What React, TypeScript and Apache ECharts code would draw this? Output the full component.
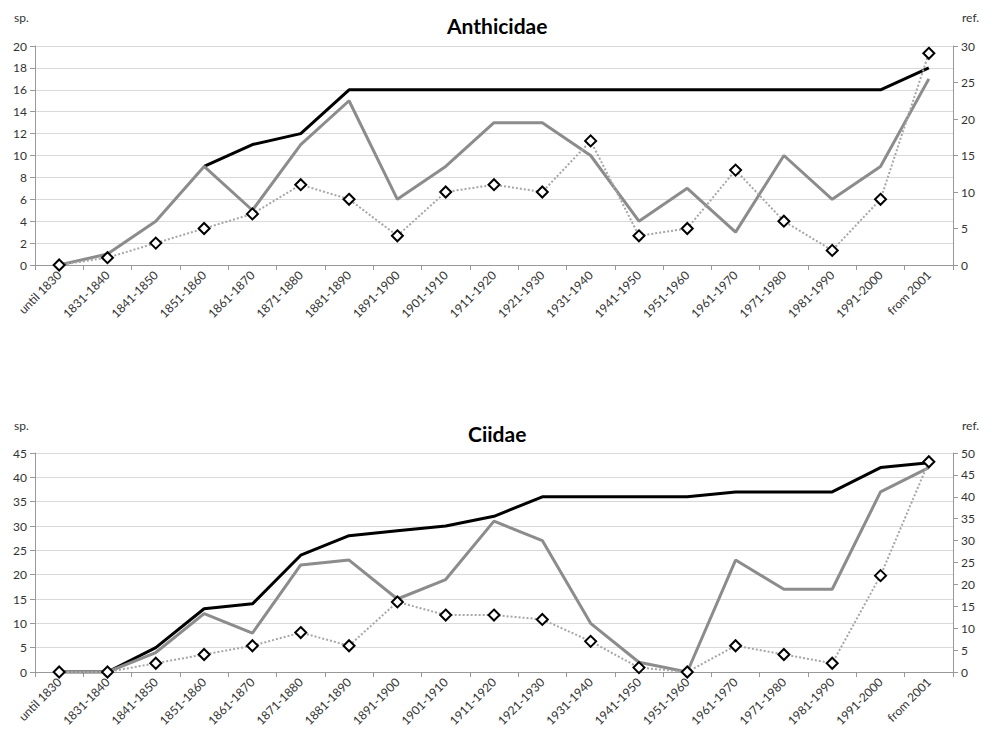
import React, { useEffect, useRef } from "react";
import * as echarts from "echarts";

const categories = [
  "until 1830", "1831-1840", "1841-1850", "1851-1860", "1861-1870", "1871-1880",
  "1881-1890", "1891-1900", "1901-1910", "1911-1920", "1921-1930", "1931-1940",
  "1941-1950", "1951-1960", "1961-1970", "1971-1980", "1981-1990", "1991-2000", "from 2001",
];

// Anthicidae (top) — black line only visible from 1851-1860 on
const anthCumulative: (number | null)[] = [null, null, null, 9, 11, 12, 16, 16, 16, 16, 16, 16, 16, 16, 16, 16, 16, 16, 18];
const anthSpecies = [0, 1, 4, 9, 5, 11, 15, 6, 9, 13, 13, 10, 4, 7, 3, 10, 6, 9, 17];
const anthRefs = [0, 1, 3, 5, 7, 11, 9, 4, 10, 11, 10, 17, 4, 5, 13, 6, 2, 9, 29];

// Ciidae (bottom)
const ciiCumulative = [0, 0, 5, 13, 14, 24, 28, 29, 30, 32, 36, 36, 36, 36, 37, 37, 37, 42, 43];
const ciiSpecies = [0, 0, 4, 12, 8, 22, 23, 15, 19, 31, 27, 10, 2, 0, 23, 17, 17, 37, 42];
const ciiRefs = [0, 0, 2, 4, 6, 9, 6, 16, 13, 13, 12, 7, 1, 0, 6, 4, 2, 22, 48];

export default function App() {
  const ref = useRef<HTMLDivElement>(null);
  useEffect(() => {
    document.body.style.margin = "0";
    if (!ref.current) return;
    const chart = echarts.init(ref.current, null, { renderer: "svg" });
    const font = "Lato, 'Open Sans', sans-serif";

    const xAxisBase = (gridIndex: number) => ({
      type: "category",
      gridIndex,
      data: categories,
      boundaryGap: true,
      axisLine: { lineStyle: { color: "#999", width: 1 } },
      axisTick: { show: true, length: 5, lineStyle: { color: "#999" } },
      axisLabel: {
        interval: 0,
        rotate: 45,
        fontSize: 12,
        color: "#333",
        fontFamily: font,
        margin: 8,
      },
    });
    const yLeft = (gridIndex: number, max: number, interval: number) => ({
      type: "value",
      gridIndex,
      position: "left",
      min: 0,
      max,
      interval,
      axisLine: { show: true, lineStyle: { color: "#999" } },
      axisTick: { show: true, length: 5, lineStyle: { color: "#999" } },
      axisLabel: { fontSize: 12, color: "#333", fontFamily: font, margin: 8 },
      splitLine: { show: true, lineStyle: { color: "#d9d9d9", width: 1 } },
    });
    const yRight = (gridIndex: number, max: number, interval: number) => ({
      type: "value",
      gridIndex,
      position: "right",
      min: 0,
      max,
      interval,
      axisLine: { show: true, lineStyle: { color: "#999" } },
      axisTick: { show: true, length: 5, lineStyle: { color: "#999" } },
      axisLabel: { fontSize: 12, color: "#333", fontFamily: font, margin: 8 },
      splitLine: { show: false },
    });
    const blackLine = (data: (number | null)[], x: number, y: number) => ({
      type: "line",
      xAxisIndex: x,
      yAxisIndex: y,
      data,
      symbol: "none",
      lineStyle: { color: "#000", width: 3 },
      z: 2,
    });
    const grayLine = (data: number[], x: number, y: number) => ({
      type: "line",
      xAxisIndex: x,
      yAxisIndex: y,
      data,
      symbol: "none",
      lineStyle: { color: "#8c8c8c", width: 3 },
      z: 3,
    });
    const refLine = (data: number[], x: number, y: number) => ({
      type: "line",
      xAxisIndex: x,
      yAxisIndex: y,
      data,
      symbol: "diamond",
      symbolSize: 11,
      itemStyle: { color: "#fff", borderColor: "#000", borderWidth: 2 },
      lineStyle: { color: "#a6a6a6", width: 2, type: "dotted" },
      z: 4,
    });

    chart.setOption({
      animation: false,
      backgroundColor: "#fff",
      grid: [
        { left: 35, right: 47, top: 46, height: 219 },
        { left: 35, right: 47, top: 453, height: 219 },
      ],
      xAxis: [xAxisBase(0), xAxisBase(1)],
      yAxis: [yLeft(0, 20, 2), yRight(0, 30, 5), yLeft(1, 45, 5), yRight(1, 50, 5)],
      series: [
        blackLine(anthCumulative, 0, 0),
        grayLine(anthSpecies, 0, 0),
        refLine(anthRefs, 0, 1),
        blackLine(ciiCumulative, 1, 2),
        grayLine(ciiSpecies, 1, 2),
        refLine(ciiRefs, 1, 3),
      ],
      graphic: [
        { type: "text", left: 447, top: 15, style: { text: "Anthicidae", font: `bold 21px ${font}`, fill: "#000" } },
        { type: "text", left: 468, top: 423, style: { text: "Ciidae", font: `bold 21px ${font}`, fill: "#000" } },
        { type: "text", left: 14, top: 11, style: { text: "sp.", font: `12px ${font}`, fill: "#333" } },
        { type: "text", left: 962, top: 11, style: { text: "ref.", font: `12px ${font}`, fill: "#333" } },
        { type: "text", left: 14, top: 419, style: { text: "sp.", font: `12px ${font}`, fill: "#333" } },
        { type: "text", left: 962, top: 419, style: { text: "ref.", font: `12px ${font}`, fill: "#333" } },
      ],
    });
    return () => chart.dispose();
  }, []);
  return <div ref={ref} style={{ width: 1000, height: 741 }} />;
}
